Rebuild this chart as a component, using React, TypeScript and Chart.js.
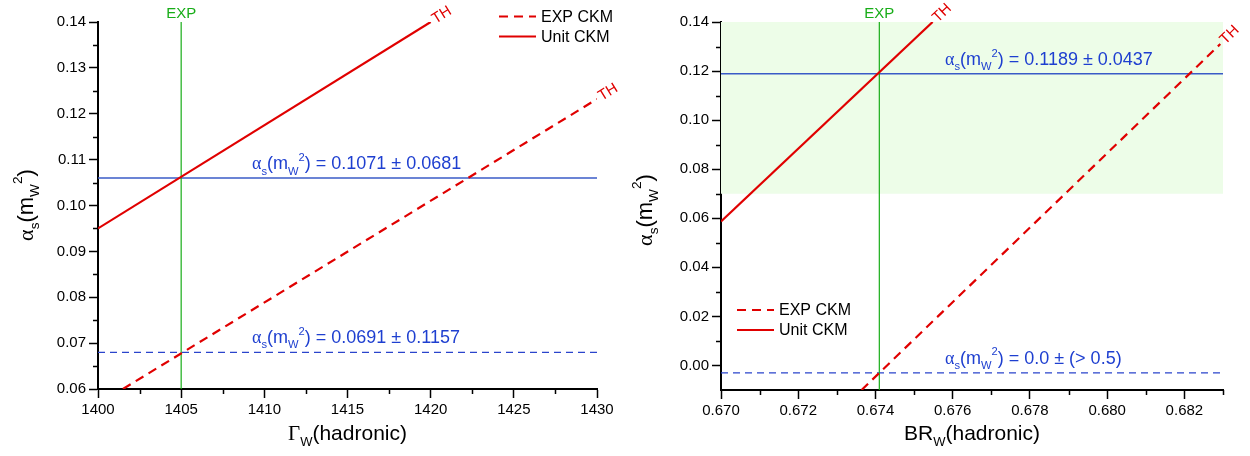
import React, { useEffect, useRef } from 'react';
import { Chart, registerables } from 'chart.js';

Chart.register(...registerables);

const FONT = '"Liberation Sans", Arial, Helvetica, sans-serif';
const SERIF = '"Liberation Serif", "Times New Roman", serif';
const RED = '#e00000';
const BLUE_LINE = '#3a5bc7';
const BLUE_DASH = '#2a44cc';
const BLUE_TEXT = '#1e3fd0';
const GREEN = '#18ad18';
const BAND = '#edfde8';

// ---------- Left panel: Γ_W(hadronic) ----------
const gammaXTicks = [1400, 1405, 1410, 1415, 1420, 1425, 1430];
const gammaXMinor = [1402.5, 1407.5, 1412.5, 1417.5, 1422.5, 1427.5];
const gammaYTicks = [0.06, 0.07, 0.08, 0.09, 0.1, 0.11, 0.12, 0.13, 0.14];
const gammaYMinor = [0.065, 0.075, 0.085, 0.095, 0.105, 0.115, 0.125, 0.135];
const gammaUnitCKM = [{ x: 1400, y: 0.095 }, { x: 1420, y: 0.14 }];
const gammaExpCKM = [{ x: 1401.5, y: 0.06 }, { x: 1430, y: 0.1232 }];
const gammaExpValue = 1405;
const gammaAlphaUnit = [{ x: 1400, y: 0.106 }, { x: 1430, y: 0.106 }];
const gammaAlphaExp = [{ x: 1400, y: 0.068 }, { x: 1430, y: 0.068 }];
const gammaLabelUnit = ') = 0.1071 ± 0.0681';
const gammaLabelExp = ') = 0.0691 ± 0.1157';

// ---------- Right panel: BR_W(hadronic) ----------
const brXTicks = [0.67, 0.672, 0.674, 0.676, 0.678, 0.68, 0.682];
const brXMinor = [0.671, 0.673, 0.675, 0.677, 0.679, 0.681, 0.683];
const brYTicks = [0.0, 0.02, 0.04, 0.06, 0.08, 0.1, 0.12, 0.14];
const brYMinor = [0.01, 0.03, 0.05, 0.07, 0.09, 0.11, 0.13];
const brUnitCKM = [{ x: 0.67, y: 0.0587 }, { x: 0.67548, y: 0.14 }];
const brExpCKM = [{ x: 0.67364, y: -0.01 }, { x: 0.68293, y: 0.131 }];
const brExpValue = 0.6741;
const brAlphaUnit = [{ x: 0.67, y: 0.1189 }, { x: 0.683, y: 0.1189 }];
const brAlphaExp = [{ x: 0.67, y: -0.003 }, { x: 0.683, y: -0.003 }];
const brBand = [{ x: 0.67, y: 0.14 }, { x: 0.683, y: 0.14 }];
const brBandLow = 0.07;
const brLabelUnit = ') = 0.1189 ± 0.0437';
const brLabelExp = ') = 0.0 ± (> 0.5)';

const legendLabels = ['EXP CKM', 'Unit CKM'];

type Pt = { x: number; y: number };
type Seg = { t: string; k?: 'sub' | 'sup'; serif?: boolean };

function segFont(size: number, s: Seg) {
  const sz = s.k ? size * 0.62 : size;
  return `${sz}px ${s.serif ? SERIF : FONT}`;
}
function richWidth(ctx: CanvasRenderingContext2D, segs: Seg[], size: number) {
  let w = 0;
  for (const s of segs) {
    ctx.font = segFont(size, s);
    w += ctx.measureText(s.t).width;
  }
  return w;
}
function drawRich(ctx: CanvasRenderingContext2D, segs: Seg[], x: number, y: number, size: number, color: string) {
  ctx.fillStyle = color;
  ctx.textBaseline = 'alphabetic';
  ctx.textAlign = 'left';
  let cx = x;
  for (const s of segs) {
    ctx.font = segFont(size, s);
    const dy = s.k === 'sub' ? size * 0.28 : s.k === 'sup' ? -size * 0.48 : 0;
    ctx.fillText(s.t, cx, y + dy);
    cx += ctx.measureText(s.t).width;
  }
}
const alphaSegs = (tail: string): Seg[] => [
  { t: 'α', serif: true },
  { t: 's', k: 'sub' },
  { t: '(m' },
  { t: 'W', k: 'sub' },
  { t: '2', k: 'sup' },
  { t: tail },
];

interface PanelSpec {
  xMin: number; xMax: number; yMin: number; yMax: number;
  xTicks: number[]; xMinor: number[]; yTicks: number[]; yMinor: number[];
  xDigits: number; yDigits: number;
  unit: Pt[]; exp: Pt[]; alphaUnit: Pt[]; alphaExp: Pt[];
  expValue: number;
  band?: Pt[]; bandLow?: number;
  labelUnit: string; labelExp: string; labelX: number;
  xTitle: Seg[];
  box: { yWidth: number; xHeight: number; top: number; right: number };
  yTitleX: number; yTitleCY: number;
  legendX: number; legendY: number;
}

const gammaSpec: PanelSpec = {
  xMin: 1400, xMax: 1430, yMin: 0.06, yMax: 0.14,
  xTicks: gammaXTicks, xMinor: gammaXMinor, yTicks: gammaYTicks, yMinor: gammaYMinor,
  xDigits: 0, yDigits: 2,
  unit: gammaUnitCKM, exp: gammaExpCKM, alphaUnit: gammaAlphaUnit, alphaExp: gammaAlphaExp,
  expValue: gammaExpValue,
  labelUnit: gammaLabelUnit, labelExp: gammaLabelExp, labelX: 1409.26,
  xTitle: [{ t: 'Γ', serif: true }, { t: 'W', k: 'sub' }, { t: '(hadronic)' }],
  box: { yWidth: 98, xHeight: 67, top: 22, right: 28 },
  yTitleX: 33, yTitleCY: 205,
  legendX: 499, legendY: 16.5,
};

const brSpec: PanelSpec = {
  xMin: 0.67, xMax: 0.683, yMin: -0.01, yMax: 0.14,
  xTicks: brXTicks, xMinor: brXMinor, yTicks: brYTicks, yMinor: brYMinor,
  xDigits: 3, yDigits: 2,
  unit: brUnitCKM, exp: brExpCKM, alphaUnit: brAlphaUnit, alphaExp: brAlphaExp,
  expValue: brExpValue,
  band: brBand, bandLow: brBandLow,
  labelUnit: brLabelUnit, labelExp: brLabelExp, labelX: 0.6758,
  xTitle: [{ t: 'BR' }, { t: 'W', k: 'sub' }, { t: '(hadronic)' }],
  box: { yWidth: 96, xHeight: 66, top: 22, right: 27 },
  yTitleX: 27, yTitleCY: 210,
  legendX: 112, legendY: 310,
};

function buildConfig(spec: PanelSpec): any {
  const line = (data: Pt[], color: string, width: number, dash: number[]) => ({
    data,
    borderColor: color,
    backgroundColor: color,
    borderWidth: width,
    borderDash: dash,
    showLine: true,
    pointRadius: 0,
    fill: false,
    tension: 0,
  });
  const datasets: any[] = [
    line(spec.unit, RED, 2.2, []),
    line(spec.exp, RED, 2.2, [9, 6]),
    line([{ x: spec.expValue, y: spec.yMin }, { x: spec.expValue, y: spec.yMax }], GREEN, 1.2, []),
    line(spec.alphaUnit, BLUE_LINE, 1.6, []),
    line(spec.alphaExp, BLUE_DASH, 1.2, [7, 5]),
  ];
  if (spec.band) {
    datasets.push({
      data: spec.band,
      showLine: true,
      borderWidth: 0,
      borderColor: 'rgba(0,0,0,0)',
      pointRadius: 0,
      backgroundColor: BAND,
      fill: { value: spec.bandLow },
    });
  }

  const overlay = {
    id: 'overlay',
    afterDraw(chart: any) {
      const ctx: CanvasRenderingContext2D = chart.ctx;
      const { left, right, top, bottom } = chart.chartArea;
      const xs = chart.scales.x;
      const ys = chart.scales.y;
      ctx.save();
      // minor ticks
      ctx.strokeStyle = '#000';
      ctx.lineWidth = 1.5;
      ctx.beginPath();
      for (const v of spec.xMinor) {
        const px = Math.round(xs.getPixelForValue(v)) + 0.5;
        ctx.moveTo(px, bottom);
        ctx.lineTo(px, bottom + 5);
      }
      for (const v of spec.yMinor) {
        const py = Math.round(ys.getPixelForValue(v)) + 0.5;
        ctx.moveTo(left - 5, py);
        ctx.lineTo(left, py);
      }
      ctx.stroke();

      // EXP label
      ctx.fillStyle = GREEN;
      ctx.font = `15px ${FONT}`;
      ctx.textAlign = 'center';
      ctx.textBaseline = 'alphabetic';
      ctx.fillText('EXP', xs.getPixelForValue(spec.expValue), 18);

      // TH labels
      for (const ln of [spec.unit, spec.exp]) {
        const p0 = { x: xs.getPixelForValue(ln[0].x), y: ys.getPixelForValue(ln[0].y) };
        const p1 = { x: xs.getPixelForValue(ln[1].x), y: ys.getPixelForValue(ln[1].y) };
        const ang = Math.atan2(p1.y - p0.y, p1.x - p0.x);
        ctx.save();
        ctx.translate(p1.x, p1.y);
        ctx.rotate(ang);
        ctx.fillStyle = RED;
        ctx.font = `15px ${FONT}`;
        ctx.textAlign = 'left';
        ctx.textBaseline = 'middle';
        ctx.fillText('TH', 3, 0);
        ctx.restore();
      }

      // blue annotations
      const lx = xs.getPixelForValue(spec.labelX);
      drawRich(ctx, alphaSegs(spec.labelUnit), lx, ys.getPixelForValue(spec.alphaUnit[0].y) - 8.5, 18, BLUE_TEXT);
      drawRich(ctx, alphaSegs(spec.labelExp), lx, ys.getPixelForValue(spec.alphaExp[0].y) - 9, 18, BLUE_TEXT);

      // legend
      const rows = [
        { dash: [9, 6], label: legendLabels[0] },
        { dash: [], label: legendLabels[1] },
      ];
      rows.forEach((r, i) => {
        const y = spec.legendY + i * 20;
        ctx.strokeStyle = RED;
        ctx.lineWidth = 2.2;
        ctx.setLineDash(r.dash);
        ctx.beginPath();
        ctx.moveTo(spec.legendX, y);
        ctx.lineTo(spec.legendX + 37, y);
        ctx.stroke();
        ctx.setLineDash([]);
        ctx.fillStyle = '#000';
        ctx.font = `16px ${FONT}`;
        ctx.textAlign = 'left';
        ctx.textBaseline = 'middle';
        ctx.fillText(r.label, spec.legendX + 42, y + 1);
      });

      // x title
      const xw = richWidth(ctx, spec.xTitle, 21);
      drawRich(ctx, spec.xTitle, (left + right) / 2 - xw / 2, 440, 21, '#000');

      // y title
      const ySegs = alphaSegs(')');
      const yw = richWidth(ctx, ySegs, 22);
      ctx.save();
      ctx.translate(spec.yTitleX, spec.yTitleCY);
      ctx.rotate(-Math.PI / 2);
      drawRich(ctx, ySegs, -yw / 2, 0, 22, '#000');
      ctx.restore();

      ctx.restore();
    },
  };

  const axisCommon = (digits: number) => ({
    type: 'linear',
    ticks: {
      callback: (v: any) => Number(v).toFixed(digits),
      font: { family: FONT, size: 15 },
      color: '#000',
      padding: 3,
      autoSkip: false,
      maxRotation: 0,
    },
    grid: {
      display: true,
      drawOnChartArea: false,
      drawTicks: true,
      tickLength: 9,
      tickColor: '#000',
      tickWidth: 1.5,
      color: '#000',
    },
    border: { display: true, color: '#000', width: 2 },
  });

  return {
    type: 'scatter',
    data: { datasets },
    options: {
      responsive: false,
      animation: false,
      devicePixelRatio: 1,
      layout: { padding: { top: spec.box.top, right: spec.box.right, left: 0, bottom: 0 } },
      plugins: { legend: { display: false }, tooltip: { enabled: false }, title: { display: false } },
      scales: {
        x: {
          ...axisCommon(spec.xDigits),
          min: spec.xMin,
          max: spec.xMax,
          afterBuildTicks: (s: any) => { s.ticks = spec.xTicks.map((v) => ({ value: v })); },
          afterFit: (s: any) => { s.height = spec.box.xHeight; },
        },
        y: {
          ...axisCommon(spec.yDigits),
          min: spec.yMin,
          max: spec.yMax,
          afterBuildTicks: (s: any) => { s.ticks = spec.yTicks.map((v) => ({ value: v })); },
          afterFit: (s: any) => { s.width = spec.box.yWidth; },
        },
      },
    },
    plugins: [overlay],
  };
}

function PanelChart({ spec, left }: { spec: PanelSpec; left: number }) {
  const ref = useRef<HTMLCanvasElement>(null);
  useEffect(() => {
    const chart = new Chart(ref.current as HTMLCanvasElement, buildConfig(spec));
    return () => chart.destroy();
  }, [spec]);
  return (
    <canvas
      ref={ref}
      width={625}
      height={456}
      style={{ position: 'absolute', left, top: 0, width: 625, height: 456 }}
    />
  );
}

export default function App() {
  return (
    <div style={{ position: 'fixed', left: 0, top: 0, width: 1250, height: 456, background: '#fff', overflow: 'hidden' }}>
      <PanelChart spec={gammaSpec} left={0} />
      <PanelChart spec={brSpec} left={625} />
    </div>
  );
}
